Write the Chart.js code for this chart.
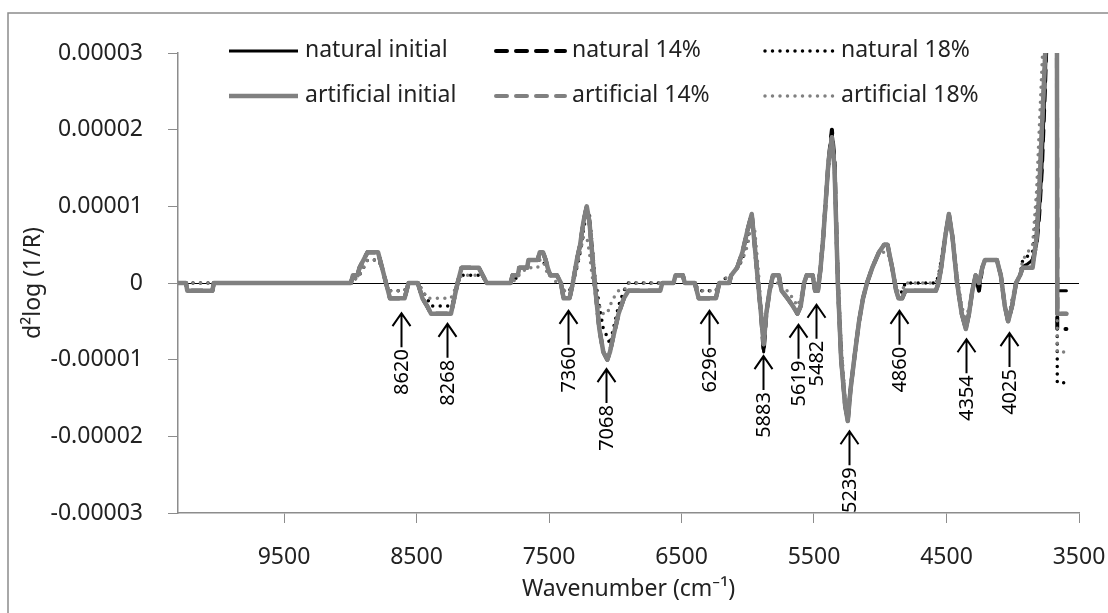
<!DOCTYPE html>
<html>
<head>
<meta charset="utf-8">
<script src="https://cdn.jsdelivr.net/npm/chart.js@4.4.1/dist/chart.umd.min.js"></script>
<style>
    html, body { margin: 0; padding: 0; background: #fff; }
    #wrap { width: 1108px; height: 613px; }
</style>
</head>
<body>
<div id="wrap"><canvas id="spectra" width="1108" height="613"></canvas></div>
<script>
// wavenumber grid shared by the six spectra (cm-1, high to low)
const wavenumbers = [
    10300, 10240, 10230, 10040, 10030, 8995, 8980, 8945, 8930, 8900,
    8870, 8790, 8760, 8730, 8700, 8590, 8560, 8490, 8455, 8420,
    8390, 8240, 8215, 8190, 8160, 8030, 8000, 7970, 7790, 7775,
    7735, 7725, 7665, 7655, 7585, 7570, 7545, 7525, 7510, 7490,
    7440, 7410, 7390, 7345, 7320, 7290, 7265, 7240, 7215, 7195,
    7175, 7155, 7120, 7090, 7060, 7040, 7015, 6975, 6935, 6900,
    6660, 6645, 6560, 6545, 6490, 6475, 6400, 6370, 6240, 6215,
    6140, 6125, 6080, 6040, 6000, 5970, 5948, 5922, 5900, 5880,
    5860, 5835, 5810, 5765, 5745, 5700, 5660, 5625, 5600, 5575,
    5555, 5510, 5492, 5470, 5450, 5430, 5410, 5390, 5365, 5345,
    5320, 5295, 5265, 5245, 5225, 5190, 5160, 5130, 5100, 5060,
    5010, 4970, 4945, 4910, 4880, 4862, 4835, 4810, 4580, 4560,
    4540, 4510, 4482, 4455, 4420, 4385, 4354, 4330, 4305, 4280,
    4255, 4230, 4210, 4120, 4090, 4060, 4035, 4005, 3975, 3945,
    3925, 3850, 3820, 3800, 3780, 3760, 3740, 3700, 3668, 3664,
    3595
];

// second derivative values, in units of 1e-6
const naturalInitial = [
    0, 0, -1, -1, 0, 0, 1, 1, 2, 3,
    4, 4, 2, 0, -2, -2, 0, 0, -2, -3,
    -4, -4, -2, 0, 2, 2, 1, 0, 0, 1,
    1, 2, 2, 3, 3, 4, 4, 3, 2, 1,
    1, 0, -2, -2, 0, 3, 5, 8, 10, 8,
    4, 0, -6, -9, -10, -9, -7, -4, -2, -1,
    -1, 0, 0, 1, 1, 0, 0, -2, -2, 0,
    0, 1, 2, 4, 7, 9, 5, 0, -4, -9,
    -4, -1, 1, 1, -1, -2, -3, -4, -3, 0,
    1, 1, -1, -1, 2, 6, 11, 16, 20, 16,
    0, -10, -16, -18, -14, -9, -5, -2, 0, 2,
    4, 5, 5, 2, -1, -2, -2, -1, -1, 0,
    2, 6, 9, 6, 0, -4, -6, -4, -1, 1,
    -1, 2, 3, 3, 1, -3, -5, -3, 0, 1,
    2, 3, 5, 9, 15, 24, 34, 55, 55, -1,
    -1
];
const natural14 = [
    0, 0, -1, -1, 0, 0, 1, 1, 2, 3,
    4, 4, 2, 0, -2, -2, 0, 0, -2, -3,
    -4, -4, -2, 0, 2, 2, 1, 0, 0, 1,
    1, 2, 2, 3, 3, 4, 4, 3, 2, 1,
    1, 0, -2, -2, 0, 3, 5, 8, 10, 8,
    4, 0, -6, -9, -10, -9, -7, -4, -2, -1,
    -1, 0, 0, 1, 1, 0, 0, -2, -2, 0,
    0, 1, 2, 4, 7, 9, 5, 0, -4, -9,
    -4, -1, 1, 1, -1, -2, -3, -4, -3, 0,
    1, 1, -1, -1, 2, 6, 11, 16, 20, 16,
    0, -10, -16, -18, -14, -9, -5, -2, 0, 2,
    4, 5, 5, 2, -1, -2, -2, -1, -1, 0,
    2, 6, 9, 6, 0, -4, -6, -4, -1, 1,
    -1, 2, 3, 3, 1, -3, -5, -3, 0, 1,
    2, 3, 5, 9, 15, 24, 34, 55, 55, -6,
    -6
];
const natural18 = [
    0, 0, 0, 0, 0, 0, 0, 1, 1, 2,
    3, 3, 2, 0, -1, -1, 0, 0, -1, -2,
    -3, -3, -2, 0, 1, 1, 1, 0, 0, 0,
    1, 2, 2, 3, 3, 3, 3, 2, 2, 1,
    1, 0, -1, -1, 0, 2, 4, 7, 9, 9,
    5, 1, -3, -6, -7, -8, -6, -3, -1, 0,
    0, 0, 0, 1, 1, 0, 0, -1, -1, 0,
    1, 1, 2, 3, 6, 9, 6, 0, -4, -8,
    -4, -1, 1, 1, -1, -2, -3, -4, -3, 0,
    1, 1, -1, -1, 2, 6, 11, 16, 19, 16,
    1, -9, -16, -18, -14, -9, -5, -2, 0, 2,
    4, 5, 5, 2, -1, -2, -1, 0, 0, 1,
    3, 6, 9, 6, 0, -4, -6, -4, -1, 1,
    0, 2, 3, 3, 1, -3, -5, -3, 0, 1,
    3, 4, 9, 15, 22, 30, 40, 55, 55, -13,
    -13
];
const artificialInitial = [
    0, 0, -1, -1, 0, 0, 1, 1, 2, 3,
    4, 4, 2, 0, -2, -2, 0, 0, -2, -3,
    -4, -4, -2, 0, 2, 2, 1, 0, 0, 1,
    1, 2, 2, 3, 3, 4, 4, 3, 2, 1,
    1, 0, -2, -2, 0, 3, 5, 8, 10, 8,
    4, 0, -6, -9, -10, -9, -7, -4, -2, -1,
    -1, 0, 0, 1, 1, 0, 0, -2, -2, 0,
    0, 1, 2, 4, 7, 9, 5, 0, -4, -8,
    -4, -1, 1, 1, -1, -2, -3, -4, -3, 0,
    1, 1, -1, -1, 2, 6, 11, 16, 19, 15,
    0, -10, -16, -18, -14, -9, -5, -2, 0, 2,
    4, 5, 5, 2, -1, -2, -2, -1, -1, 0,
    2, 6, 9, 6, 0, -4, -6, -4, -1, 1,
    0, 2, 3, 3, 1, -3, -5, -3, 0, 1,
    2, 2, 6, 12, 20, 28, 36, 55, 55, -4,
    -4
];
const artificial14 = [
    0, 0, -1, -1, 0, 0, 1, 1, 2, 3,
    4, 4, 2, 0, -2, -2, 0, 0, -2, -3,
    -4, -4, -2, 0, 2, 2, 1, 0, 0, 1,
    1, 2, 2, 3, 3, 4, 4, 3, 2, 1,
    1, 0, -2, -2, 0, 3, 5, 8, 10, 8,
    4, 0, -6, -9, -10, -9, -7, -4, -2, -1,
    -1, 0, 0, 1, 1, 0, 0, -2, -2, 0,
    0, 1, 2, 4, 7, 9, 5, 0, -4, -8,
    -4, -1, 1, 1, -1, -2, -3, -4, -3, 0,
    1, 1, -1, -1, 2, 6, 11, 16, 19, 15,
    0, -10, -16, -18, -14, -9, -5, -2, 0, 2,
    4, 5, 5, 2, -1, -2, -2, -1, -1, 0,
    2, 6, 9, 6, 0, -4, -6, -4, -1, 1,
    0, 2, 3, 3, 1, -3, -5, -3, 0, 1,
    2, 2, 6, 12, 20, 28, 36, 55, 55, -4,
    -4
];
const artificial18 = [
    0, 0, 0, 0, 0, 0, 0, 1, 1, 2,
    3, 3, 2, 0, -1, -1, 0, 0, -1, -2,
    -2, -2, -1, 0, 1, 1, 1, 0, 0, 0,
    1, 1, 2, 2, 2, 3, 3, 2, 1, 1,
    0, 0, -1, -1, 0, 2, 4, 6, 6, 4,
    1, -1, -3, -4, -4, -3, -2, -1, -1, 0,
    0, 0, 0, 1, 1, 0, 0, -1, -1, 0,
    1, 1, 2, 3, 5, 8, 7, 2, -3, -7,
    -4, -1, 0, 0, -1, -1, -2, -3, -2, 0,
    1, 1, 0, 0, 3, 7, 11, 15, 17, 16,
    2, -8, -15, -17, -14, -9, -5, -2, 0, 2,
    4, 4, 4, 2, -1, -1, -1, 0, 0, 1,
    3, 6, 8, 6, 1, -3, -5, -3, -1, 1,
    0, 2, 3, 3, 1, -3, -5, -2, 0, 1,
    3, 5, 12, 20, 28, 36, 44, 55, 55, -9,
    -9
];

const xTicks = [3500, 4500, 5500, 6500, 7500, 8500, 9500];
const xTickLabels = ['3500', '4500', '5500', '6500', '7500', '8500', '9500'];
const yTicks = [-0.00003, -0.00002, -0.00001, 0, 0.00001, 0.00002, 0.00003];
const yTickLabels = ['-0.00003', '-0.00002', '-0.00001', '0', '0.00001', '0.00002', '0.00003'];

// marked absorption bands; arrow tip level in units of 1e-6
const peakLabels = ['8620', '8268', '7360', '7068', '6296', '5883', '5619', '5482', '5239', '4860', '4354', '4025'];
const peakPositions = [8620, 8268, 7360, 7068, 6296, 5883, 5619, 5482, 5239, 4860, 4354, 4025];
const arrowTips = [-3.8, -5.2, -3.5, -11.1, -3.5, -9.4, -5.3, -2.7, -19.2, -3.5, -7.2, -6.4];

const FONT = '"Noto Sans", sans-serif';
const TEXT = '#222';
const AXIS = '#8c8c8c';
const GRAY = '#808080';

Chart.defaults.font.family = FONT;
Chart.defaults.font.size = 23;
Chart.defaults.color = TEXT;

const series = [
    { label: 'natural initial', values: naturalInitial, color: '#000', width: 3, dash: [], order: 6 },
    { label: 'natural 14%', values: natural14, color: '#000', width: 4, dash: [11, 9], order: 5 },
    { label: 'natural 18%', values: natural18, color: '#000', width: 3.5, dash: [0, 7.5], order: 4 },
    { label: 'artificial initial', values: artificialInitial, color: GRAY, width: 4.5, dash: [], order: 3 },
    { label: 'artificial 14%', values: artificial14, color: GRAY, width: 4, dash: [11, 9], order: 2 },
    { label: 'artificial 18%', values: artificial18, color: GRAY, width: 3.5, dash: [0, 7.5], order: 1 }
];

const datasets = series.map(s => ({
    label: s.label,
    data: wavenumbers.map((wn, i) => ({ x: wn, y: s.values[i] * 1e-6 })),
    borderColor: s.color,
    borderWidth: s.width,
    borderDash: s.dash,
    borderCapStyle: 'round',
    borderJoinStyle: 'round',
    pointRadius: 0,
    tension: 0,
    fill: false,
    order: s.order
}));

// arrows, legend and frame drawn on top of the plot
const decorations = {
    id: 'decorations',
    afterDatasetsDraw(chart) {
        const { ctx, scales: { x, y } } = chart;
        ctx.save();
        ctx.strokeStyle = '#000';
        ctx.fillStyle = '#000';
        ctx.lineWidth = 2;
        ctx.lineCap = 'butt';
        ctx.font = '20px ' + FONT;
        peakPositions.forEach((wn, i) => {
            const px = Math.round(x.getPixelForValue(wn)) + 0.5;
            const tip = y.getPixelForValue(arrowTips[i] * 1e-6);
            ctx.beginPath();
            ctx.moveTo(px, tip + 1);
            ctx.lineTo(px, tip + 35);
            ctx.moveTo(px - 9, tip + 14);
            ctx.lineTo(px, tip + 1);
            ctx.lineTo(px + 9, tip + 14);
            ctx.stroke();

            ctx.save();
            ctx.translate(px, tip + 37);
            ctx.rotate(-Math.PI / 2);
            ctx.textAlign = 'right';
            ctx.textBaseline = 'middle';
            ctx.fillText(peakLabels[i], 0, 1);
            ctx.restore();
        });
        ctx.restore();
    },
    afterDraw(chart) {
        const ctx = chart.ctx;
        const colX = [229, 496, 765];
        const rowY = [51, 96];
        ctx.save();
        chart.data.datasets.forEach((ds, i) => {
            const x0 = colX[i % 3];
            const yy = rowY[Math.floor(i / 3)];
            ctx.beginPath();
            ctx.setLineDash(ds.borderDash);
            ctx.lineCap = ds.borderDash.length ? 'round' : 'butt';
            ctx.strokeStyle = ds.borderColor;
            ctx.lineWidth = ds.borderWidth;
            ctx.moveTo(x0, yy);
            ctx.lineTo(x0 + 69, yy);
            ctx.stroke();
            ctx.setLineDash([]);
            ctx.fillStyle = TEXT;
            ctx.font = '23px ' + FONT;
            ctx.textAlign = 'left';
            ctx.textBaseline = 'middle';
            ctx.fillText(ds.label, x0 + 76, yy - 1);
        });
        // outer frame (right and bottom edges fall outside the picture)
        ctx.strokeStyle = AXIS;
        ctx.lineWidth = 1.5;
        ctx.strokeRect(8, 13, 1140, 700);
        ctx.restore();
    }
};

new Chart(document.getElementById('spectra'), {
    type: 'line',
    data: { datasets },
    options: {
        responsive: false,
        animation: false,
        layout: { padding: { left: 0, right: 29, top: 53, bottom: 0 } },
        plugins: {
            legend: { display: false },
            tooltip: { enabled: false }
        },
        scales: {
            x: {
                type: 'linear',
                reverse: true,
                min: 3500,
                max: 10300,
                afterBuildTicks: s => { s.ticks = xTicks.map(v => ({ value: v })); },
                afterFit: s => { s.height = 100; },
                ticks: {
                    padding: 21,
                    maxRotation: 0,
                    autoSkip: false,
                    color: TEXT,
                    callback: v => xTickLabels[xTicks.indexOf(v)]
                },
                grid: { drawOnChartArea: false, tickColor: AXIS, tickLength: 10 },
                border: { display: true, color: AXIS, width: 1.5 },
                title: {
                    display: true,
                    text: 'Wavenumber (cm⁻¹)',
                    color: TEXT,
                    padding: { top: 0, bottom: 10 }
                }
            },
            y: {
                min: -0.00003,
                max: 0.00003,
                afterBuildTicks: s => { s.ticks = yTicks.map(v => ({ value: v })); },
                afterFit: s => { s.width = 178; },
                ticks: {
                    padding: 25,
                    color: TEXT,
                    callback: v => yTickLabels[yTicks.indexOf(v)]
                },
                grid: {
                    drawOnChartArea: true,
                    color: c => (c.tick && c.tick.value === 0) ? '#000' : 'rgba(0,0,0,0)',
                    tickColor: AXIS,
                    tickLength: 10,
                    lineWidth: 1
                },
                border: { display: true, color: AXIS, width: 1.5 },
                title: {
                    display: true,
                    text: 'd²log (1/R)',
                    color: TEXT,
                    padding: { top: 20, bottom: 0 }
                }
            }
        }
    },
    plugins: [decorations]
});
</script>
</body>
</html>
